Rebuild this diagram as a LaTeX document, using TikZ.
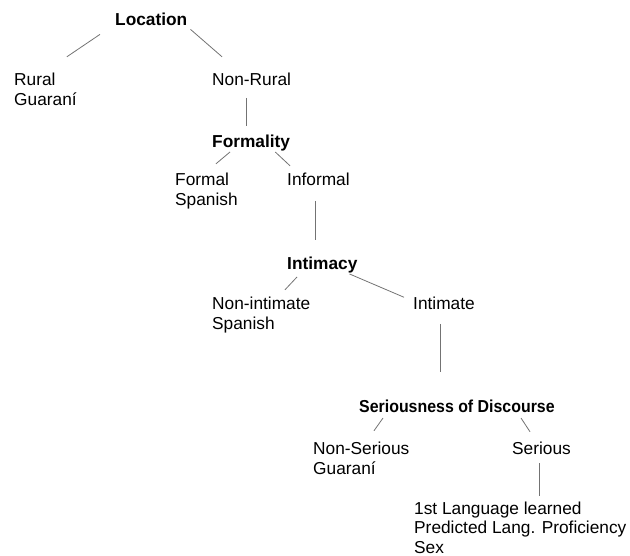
\documentclass[tikz,border=0pt]{standalone}
\usepackage{fontspec}
\setmainfont{Liberation Sans}
\newfontfamily\narrowfont[FakeStretch=0.92]{Liberation Sans}
\usepackage{tikz}

\begin{document}
\begin{tikzpicture}[x=1pt,y=-1pt,
    font=\fontsize{17.3}{20}\selectfont,
    var/.style={inner sep=0pt, anchor=base west, font=\fontsize{17.3}{20}\selectfont\bfseries},
    val/.style={inner sep=0pt, anchor=base west, align=left},
    link/.style={draw=black!55, line width=0.8pt}]
   \useasboundingbox (0,0) rectangle (630,556);

   % multi-line nodes sit on the baseline of their last line
   \node[var] (loc)         at (115,26)  {Location} ; %
   \node[val] (rural)       at (14,106)  {Rural\\Guaraní} ; %
   \node[val] (nonrural)    at (212,86)  {Non-Rural} ; %
   \node[var] (formality)   at (212,148) {Formality} ; %
   \node[val] (formal)      at (175,206) {Formal\\Spanish} ; %
   \node[val] (informal)    at (287,186) {Informal} ; %
   \node[var] (intimacy)    at (287,270) {Intimacy} ; %
   \node[val] (nonintimate) at (212,330) {Non-intimate\\Spanish} ; %
   \node[val] (intimate)    at (413,310) {Intimate} ; %
   \node[var, font=\fontsize{17.3}{20}\selectfont\narrowfont\bfseries]
                            (serious)    at (359,413) {Seriousness of Discourse} ; %
   \node[val] (nonser)      at (313,474) {Non-Serious\\Guaraní} ; %
   \node[val] (ser)         at (512,454) {Serious} ; %
   \node[val, font=\fontsize{17.3}{19.5}\selectfont]
              (factors)     at (414,553) {1st Language learned\\Predicted Lang. Proficiency\\Sex} ; %

   \draw[link] ([shift={(-15,8)}]loc.south west)    -- ([shift={(-10,-16.5)}]rural.north east) ;
   \draw[link] ([shift={(3,3)}]loc.south east)      -- ([shift={(10,-16.5)}]nonrural.north west) ;
   \draw[link] ([shift={(34,12)}]nonrural.base west) -- ([shift={(34,-9.5)}]formality.north west) ;
   \draw[link] ([shift={(18,4)}]formality.base west) -- ([shift={(41,-9.5)}]formal.north west) ;
   \draw[link] ([shift={(-15,4)}]formality.base east) -- ([shift={(3,-7.5)}]informal.north west) ;
   \draw[link] ([shift={(28,15)}]informal.base west) -- ([shift={(28,-17.5)}]intimacy.north west) ;
   \draw[link] ([shift={(10,7)}]intimacy.base west)  -- ([shift={(73,-7.5)}]nonintimate.north west) ;
   \draw[link] ([shift={(-8,4)}]intimacy.base east)  -- ([shift={(-9,0)}]intimate.north west) ;
   \draw[link] ([shift={(27,14)}]intimate.base west) -- ([shift={(81,-28.5)}]serious.north west) ;
   \draw[link] ([shift={(24,5)}]serious.base west)   -- ([shift={(61,-10.5)}]nonser.north west) ;
   \draw[link] ([shift={(162,5)}]serious.base west)  -- ([shift={(18,-9.5)}]ser.north west) ;
   \draw[link] ([shift={(27,9)}]ser.base west)       -- ([shift={(125,-5.5)}]factors.north west) ;

\end{tikzpicture}
\end{document}
